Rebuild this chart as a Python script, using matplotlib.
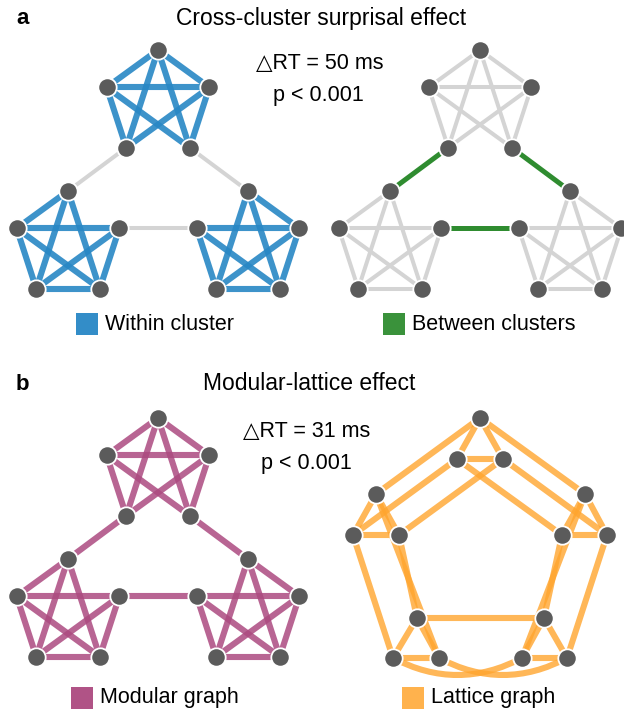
import numpy as np
import matplotlib.pyplot as plt
from matplotlib.collections import LineCollection
from matplotlib.patches import Rectangle, PathPatch
from matplotlib.path import Path

plt.rcParams['font.family'] = ['Liberation Sans', 'DejaVu Sans']

# modular graph: 3 clusters of 5 nodes, node = 5 * cluster + vertex
# vertex 0 top, 1 upper right, 2 lower right, 3 lower left, 4 upper left
within_edges = [
    (0, 1), (0, 2), (0, 3), (0, 4), (1, 2), (1, 3), (1, 4), (2, 4), (3, 4),
    (5, 7), (5, 8), (5, 9), (6, 7), (6, 8), (6, 9), (7, 8), (7, 9), (8, 9),
    (10, 11), (10, 12), (10, 13), (11, 12), (11, 13), (11, 14), (12, 13), (12, 14), (13, 14),
]
between_edges = [(3, 5), (2, 10), (6, 14)]

# lattice graph: 5 triangles around a pentagon
lattice_edges = [
    (0, 1), (0, 2), (1, 2), (3, 4), (3, 5), (4, 5), (6, 7), (6, 8), (7, 8),
    (9, 10), (9, 11), (10, 11), (12, 13), (12, 14), (13, 14),
    (0, 3), (1, 4), (2, 5), (0, 12), (2, 14), (1, 13),
    (3, 8), (4, 7), (5, 6), (12, 10), (14, 11), (13, 9), (6, 9),
]
lattice_arcs = [(7, 10), (8, 11)]

titles = ['Cross-cluster surprisal effect', 'Modular-lattice effect']
delta_rt = [50, 31]
p_text = ['p < 0.001', 'p < 0.001']
legend_labels = [['Within cluster', 'Between clusters'], ['Modular graph', 'Lattice graph']]

BLUE = '#2887c5'
GREEN = '#2f8c30'
MAGENTA = '#ac4a80'
ORANGE = '#ffa52e'
GRAY = '#d4d4d4'
NODE = '#5b5b5b'


def modular_layout(ox, oy, r=54):
    centers = [(158, 104), (68, 245), (248, 245)]
    pts = []
    for cx, cy in centers:
        for k in range(5):
            t = np.radians(-90 + 72 * k)
            pts.append((ox + cx + r * np.cos(t), oy + cy + r * np.sin(t)))
    return np.array(pts)


lattice_pos = np.array([
    (480, 418), (457, 459), (503, 459),
    (376, 494), (353, 535), (399, 535),
    (417, 618), (393, 658), (439, 658),
    (544, 618), (522, 658), (567, 658),
    (585, 494), (562, 535), (607, 535),
])

fig = plt.figure(figsize=(6.24, 7.13), dpi=100)
ax = fig.add_axes([0, 0, 1, 1])
ax.set_xlim(0, 624)
ax.set_ylim(713, 0)
ax.axis('off')


def draw_edges(pos, edges, color, lw, alpha=1.0):
    segs = [[pos[i], pos[j]] for i, j in edges]
    ax.add_collection(LineCollection(segs, colors=color, linewidths=lw,
                                     alpha=alpha, capstyle='butt', zorder=2))


def draw_nodes(pos):
    ax.scatter(pos[:, 0], pos[:, 1], s=175, c=NODE, edgecolors='white',
               linewidths=1.3, zorder=5)


# panel a
pa_left = modular_layout(0, 0)
draw_edges(pa_left, between_edges, GRAY, 2.9)
draw_edges(pa_left, within_edges, BLUE, 4.4, alpha=0.9)
draw_nodes(pa_left)

pa_right = modular_layout(322, 0)
draw_edges(pa_right, within_edges, GRAY, 2.9)
draw_edges(pa_right, between_edges, GREEN, 3.6)
draw_nodes(pa_right)

# panel b
pb_left = modular_layout(0, 368)
draw_edges(pb_left, within_edges + between_edges, MAGENTA, 4.4, alpha=0.85)
draw_nodes(pb_left)

draw_edges(lattice_pos, lattice_edges, ORANGE, 4.4, alpha=0.8)
for i, j in lattice_arcs:
    p0, p2 = lattice_pos[i], lattice_pos[j]
    ctrl = ((p0[0] + p2[0]) / 2, p0[1] + 34)
    path = Path([p0, ctrl, p2], [Path.MOVETO, Path.CURVE3, Path.CURVE3])
    ax.add_patch(PathPatch(path, fill=False, edgecolor=ORANGE, lw=4.4,
                           alpha=0.8, capstyle='butt', zorder=2))
draw_nodes(lattice_pos)

# text
for k, (y0, tx) in enumerate([(0, 321), (366, 309)]):
    ax.text(16, y0 + 19, 'ab'[k], fontsize=16, fontweight='bold', ha='left', va='center')
    ax.text(tx, y0 + 18, titles[k], fontsize=16.5, ha='center', va='center')

ax.text(320, 63, '\u25b3RT = %d ms' % delta_rt[0], fontsize=15.5, ha='center', va='center')
ax.text(318, 95, p_text[0], fontsize=15.5, ha='center', va='center')
ax.text(307, 432, '\u25b3RT = %d ms' % delta_rt[1], fontsize=15.5, ha='center', va='center')
ax.text(306, 464, p_text[1], fontsize=15.5, ha='center', va='center')

# legends
legend_items = [
    (76, 313, BLUE, legend_labels[0][0]), (383, 313, GREEN, legend_labels[0][1]),
    (71, 687, MAGENTA, legend_labels[1][0]), (402, 687, ORANGE, legend_labels[1][1]),
]
for x, y, col, lab in legend_items:
    ax.add_patch(Rectangle((x, y), 22, 22, facecolor=col, edgecolor='none',
                           alpha=0.95 if col != ORANGE else 0.85))
    ax.text(x + 29, y + 11, lab, fontsize=15.5, ha='left', va='center')

fig.savefig('out.png', dpi=100)
